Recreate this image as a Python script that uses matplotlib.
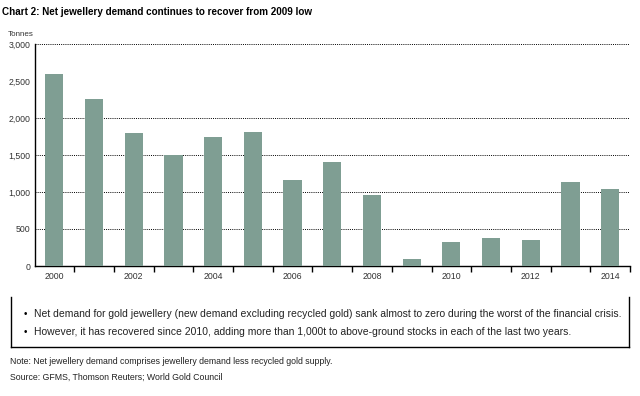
import matplotlib
matplotlib.use("Agg")
import matplotlib.pyplot as plt
from matplotlib.lines import Line2D

plt.rcParams['font.family'] = ['Liberation Sans', 'DejaVu Sans']

# data (tonnes)
years = [2000, 2001, 2002, 2003, 2004, 2005, 2006, 2007, 2008, 2009, 2010, 2011, 2012, 2013, 2014]
net_demand = [2590, 2260, 1800, 1505, 1745, 1815, 1165, 1410, 965, 92, 325, 372, 345, 1130, 1035]
y_ticks = [0, 500, 1000, 1500, 2000, 2500, 3000]
grid_levels = [500, 1000, 1500, 2000, 3000]
x_labels = [2000, 2002, 2004, 2006, 2008, 2010, 2012, 2014]

title = "Chart 2: Net jewellery demand continues to recover from 2009 low"
bullets = [
    "Net demand for gold jewellery (new demand excluding recycled gold) sank almost to zero during the worst of the financial crisis.",
    "However, it has recovered since 2010, adding more than 1,000t to above-ground stocks in each of the last two years.",
]
note = "Note: Net jewellery demand comprises jewellery demand less recycled gold supply."
source = "Source: GFMS, Thomson Reuters; World Gold Council"

fig = plt.figure(figsize=(6.4, 3.96), dpi=100)
ax = fig.add_axes([34.5 / 640, 1 - 266 / 396, (630 - 34.5) / 640, (266 - 44) / 396])

ax.bar(years, net_demand, width=0.46, color='#7f9e93', zorder=3)

ax.set_xlim(1999.5, 2014.5)
ax.set_ylim(0, 3000)
for lvl in grid_levels:
    ax.axhline(lvl, color='black', lw=0.7, ls=(0, (1, 1.2)), zorder=1)

ax.set_yticks(y_ticks)
ax.set_yticklabels([f"{v:,}" for v in y_ticks], fontsize=6.3, color='#333333')
ax.tick_params(axis='y', length=0, pad=3)

ax.set_xticks(x_labels)
ax.set_xticklabels([str(y) for y in x_labels], fontsize=6.3, color='#333333')
ax.set_xticks([y + 0.5 for y in years], minor=True)
ax.tick_params(axis='x', which='major', length=0, pad=4)
ax.tick_params(axis='x', which='minor', length=4, width=1, direction='out')

for s in ['top', 'right']:
    ax.spines[s].set_visible(False)
ax.spines['left'].set_linewidth(1)
ax.spines['bottom'].set_linewidth(1)

fig.text(2 / 640, 1 - 12 / 396, title, fontsize=7.1, fontweight='bold', va='center', ha='left')
fig.text(8 / 640, 1 - 34 / 396, "Tonnes", fontsize=5.8, va='center', ha='left', color='#333333')

# box with bullets (no top edge)
x0, x1 = 11 / 640, 629 / 640
yt, yb = 1 - 297 / 396, 1 - 347 / 396
for xs, ys in [([x0, x0], [yt, yb]), ([x0, x1], [yb, yb]), ([x1, x1], [yb, yt])]:
    fig.add_artist(Line2D(xs, ys, color='black', lw=1, transform=fig.transFigure))

for i, txt in enumerate(bullets):
    yy = 1 - (314 + 18 * i) / 396
    fig.text(24 / 640, yy, "\u2022", fontsize=7, va='center', ha='left')
    fig.text(34 / 640, yy, txt, fontsize=7.5, va='center', ha='left', color='#222222')

fig.text(10 / 640, 1 - 361 / 396, note, fontsize=6.3, va='center', ha='left', color='#222222')
fig.text(10 / 640, 1 - 377 / 396, source, fontsize=6.3, va='center', ha='left', color='#222222')

fig.savefig("out.png", dpi=100)
